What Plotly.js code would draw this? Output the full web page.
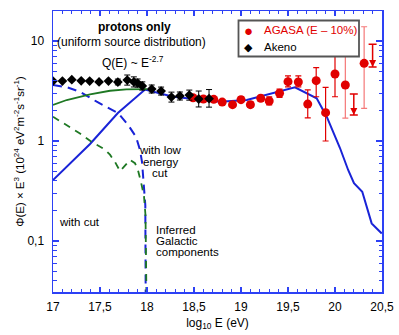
<!DOCTYPE html>
<html>
<head>
<meta charset="utf-8">
<script src="https://cdn.plot.ly/plotly-3.0.1.min.js"></script>
<style>
  html, body { margin: 0; padding: 0; background: #fff; }
  #chart { width: 399px; height: 335px; }
</style>
</head>
<body>
<div id="chart"></div>
<script>
// Akeno data (log10 E, flux x E^3 in 10^24 units)
const akenoLogE = [17.00, 17.10, 17.20, 17.30, 17.39, 17.49, 17.59, 17.69, 17.79, 17.86, 17.90, 17.95, 18.05, 18.15, 18.26, 18.35, 18.45, 18.55, 18.66];
const akenoFlux = [3.98, 3.98, 4.10, 4.00, 3.98, 3.90, 3.98, 3.89, 4.07, 3.90, 3.80, 3.55, 3.31, 3.16, 2.75, 2.82, 2.88, 2.63, 2.65];
const akenoErrUp = [0, 0, 0, 0, 0, 0, 0, 0.27, 0.50, 0.48, 0.37, 0.35, 0.32, 0.30, 0.33, 0.27, 0.35, 0.53, 0.62];
const akenoErrDn = [0, 0, 0, 0, 0, 0, 0, 0.25, 0.45, 0.43, 0.34, 0.32, 0.29, 0.28, 0.30, 0.25, 0.32, 0.44, 0.47];

// AGASA data (E - 10%)
const agasaLogE = [18.49, 18.60, 18.71, 18.80, 18.91, 19.00, 19.10, 19.21, 19.30, 19.41, 19.50, 19.61, 19.71, 19.80, 19.90, 20.00];
const agasaFlux = [2.71, 2.63, 2.61, 2.45, 2.31, 2.59, 2.31, 2.67, 2.51, 3.00, 3.92, 3.89, 2.34, 4.01, 1.92, 4.68];
const agasaErrUp = [0.12, 0.12, 0.12, 0.12, 0.11, 0.18, 0.16, 0.19, 0.25, 0.30, 0.55, 0.58, 0.90, 1.40, 1.52, 3.45];
const agasaErrDn = [0.12, 0.12, 0.12, 0.11, 0.10, 0.16, 0.14, 0.17, 0.22, 0.27, 0.45, 0.42, 0.64, 1.24, 0.92, 1.91];

// highest energy AGASA points (wide, faint error bars)
const agasaHiLogE = [20.11, 20.31];
const agasaHiFlux = [3.63, 5.98];
const agasaHiErrUp = [10.6, 7.9];
const agasaHiErrDn = [1.94, 3.86];

// AGASA upper limits
const limitLogE = [20.20, 20.40];
const limitTop = [2.95, 9.3];
const limitArrow = [1.82, 5.5];

// model: with cut (blue solid)
const cutLogE = [17.0, 17.18, 17.394, 17.69, 17.904, 17.979, 18.277, 18.564, 18.777, 19.061, 19.415, 19.574, 19.805, 19.912, 20.053, 20.141, 20.202, 20.29, 20.39, 20.497];
const cutFlux = [0.407, 0.60, 0.933, 1.905, 2.82, 3.27, 2.77, 2.57, 2.47, 2.57, 3.11, 3.44, 2.67, 1.75, 0.851, 0.51, 0.378, 0.311, 0.150, 0.119];

// inferred galactic component, with cut (blue dashed)
const galCutLogE = [17.0, 17.15, 17.287, 17.465, 17.695, 17.80, 17.883, 17.926, 17.947, 17.968, 17.982, 17.986, 17.99];
const galCutFlux = [3.63, 3.44, 3.11, 2.47, 1.89, 1.445, 1.10, 0.81, 0.617, 0.363, 0.229, 0.03, 0.01];

// model: with low energy cut (green solid)
const lowCutLogE = [17.0, 17.146, 17.394, 17.606, 17.78, 17.96, 18.0];
const lowCutFlux = [2.29, 2.57, 2.93, 3.18, 3.29, 3.33, 3.30];

// inferred galactic component, low energy cut (green dashed)
const galLowLogE = [17.0, 17.146, 17.287, 17.41, 17.5, 17.553, 17.606, 17.66, 17.713, 17.766, 17.82, 17.872, 17.904, 17.936, 17.968, 17.984, 17.99, 18.0];
const galLowFlux = [1.75, 1.445, 1.19, 0.98, 0.88, 0.82, 0.73, 0.617, 0.50, 0.562, 0.646, 0.60, 0.51, 0.389, 0.282, 0.18, 0.03, 0.01];

const xTicks = [17, 17.5, 18, 18.5, 19, 19.5, 20, 20.5];
const xTickText = ['17', '17,5', '18', '18,5', '19', '19,5', '20', '20,5'];
const yTicks = [0.1, 1, 10];
const yTickText = ['0,1', '1', '10'];
const yMinor = [0.04, 0.05, 0.06, 0.07, 0.08, 0.09, 0.2, 0.3, 0.4, 0.5, 0.6, 0.7, 0.8, 0.9, 2, 3, 4, 5, 6, 7, 8, 9, 20];

const FONT = 'Liberation Sans, Arial, Helvetica, sans-serif';
const AXIS_BLUE = 'rgb(45,65,245)';
const LINE_BLUE = 'rgb(25,35,215)';
const GREEN = 'rgb(30,120,35)';
const RED = 'rgb(225,0,0)';

const traces = [
    {
        x: cutLogE, y: cutFlux, type: 'scatter', mode: 'lines',
        line: { color: LINE_BLUE, width: 2 }
    },
    {
        x: galCutLogE, y: galCutFlux, type: 'scatter', mode: 'lines',
        line: { color: LINE_BLUE, width: 2, dash: '9px,6px' }
    },
    {
        x: lowCutLogE, y: lowCutFlux, type: 'scatter', mode: 'lines',
        line: { color: GREEN, width: 1.8 }
    },
    {
        x: galLowLogE, y: galLowFlux, type: 'scatter', mode: 'lines',
        line: { color: GREEN, width: 1.8, dash: '7px,6px' }
    },
    {
        x: agasaHiLogE, y: agasaHiFlux, type: 'scatter', mode: 'markers',
        marker: { color: RED, size: 9 },
        error_y: { type: 'data', symmetric: false, array: agasaHiErrUp, arrayminus: agasaHiErrDn,
                   color: 'rgb(245,120,120)', thickness: 1.2, width: 3 }
    },
    {
        x: limitLogE, y: limitArrow, type: 'scatter', mode: 'markers',
        marker: { color: RED, size: 7, symbol: 'arrow-down' },
        error_y: { type: 'data', symmetric: false, array: limitTop.map((t, i) => t - limitArrow[i]),
                   arrayminus: [0, 0], color: RED, thickness: 1.5, width: 4 }
    },
    {
        x: agasaLogE, y: agasaFlux, type: 'scatter', mode: 'markers', name: 'AGASA (E – 10%)',
        marker: { color: RED, size: 9 },
        error_y: { type: 'data', symmetric: false, array: agasaErrUp, arrayminus: agasaErrDn,
                   color: RED, thickness: 1.2, width: 3 }
    },
    {
        x: akenoLogE, y: akenoFlux, type: 'scatter', mode: 'markers', name: 'Akeno',
        marker: { color: 'black', size: 7.5, symbol: 'diamond' },
        error_y: { type: 'data', symmetric: false, array: akenoErrUp, arrayminus: akenoErrDn,
                   color: 'black', thickness: 1, width: 3 }
    }
];

function note(text, x, y, size, anchor, bold, color) {
    return {
        text: bold ? '<b>' + text + '</b>' : text,
        xref: 'paper', yref: 'paper', x: x, y: y,
        xanchor: anchor || 'center', yanchor: 'middle',
        showarrow: false,
        font: { family: FONT, size: size, color: color || 'black' }
    };
}

// paper coords from pixel positions in the plot area (53..382, 11..292)
const px = v => (v - 53) / 329;
const py = v => (292 - v) / 281;

// legend box drawn by hand so it keeps the compact size of the original
const legendBox = {
    type: 'rect', xref: 'paper', yref: 'paper', layer: 'above',
    x0: px(238.5), x1: px(359), y0: py(56.5), y1: py(20.5),
    line: { color: '#555', width: 1.8 }, fillcolor: 'white'
};

const layout = {
    width: 399,
    height: 335,
    margin: { l: 53, r: 17, t: 11, b: 43 },
    paper_bgcolor: 'white',
    plot_bgcolor: 'white',
    font: { family: FONT, size: 12, color: 'black' },
    showlegend: false,
    xaxis: {
        type: 'linear', range: [17, 20.5],
        tickmode: 'array', tickvals: xTicks, ticktext: xTickText,
        ticks: 'inside', ticklen: 5, tickwidth: 1.3, tickcolor: AXIS_BLUE,
        minor: { dtick: 0.1, ticks: 'inside', ticklen: 3, tickcolor: AXIS_BLUE, tickwidth: 1 },
        showline: true, linecolor: AXIS_BLUE, linewidth: 1.5, mirror: 'ticks',
        showgrid: false, zeroline: false,
        tickfont: { family: FONT, size: 12, color: 'black' },
        ticklabelstandoff: 3,
        title: { text: 'log<sub>10</sub> E (eV)', font: { family: FONT, size: 12, color: 'black' }, standoff: 5 }
    },
    yaxis: {
        type: 'log', range: [-1.51, 1.30],
        tickmode: 'array', tickvals: yTicks, ticktext: yTickText,
        ticks: 'inside', ticklen: 6, tickwidth: 1.3, tickcolor: AXIS_BLUE,
        minor: { tickmode: 'array', tickvals: yMinor, ticks: 'inside', ticklen: 3.5, tickcolor: AXIS_BLUE, tickwidth: 1 },
        showline: true, linecolor: AXIS_BLUE, linewidth: 1.5, mirror: 'ticks',
        showgrid: false, zeroline: false,
        tickfont: { family: FONT, size: 12, color: 'black' },
        ticklabelstandoff: 5,
        title: {
            text: 'Φ(E) × E<sup>3</sup> (10<sup>24</sup> eV<sup>2</sup>m<sup>-2</sup>s<sup>-1</sup>sr<sup>-1</sup>)',
            font: { family: FONT, size: 11.5, color: 'black' }, standoff: 0
        }
    },
    shapes: [legendBox],
    annotations: [
        note('protons only', px(134), py(27), 12, 'center', true),
        note('(uniform source distribution)', px(131.5), py(42), 12),
        note('Q(E) ~ E<sup>-2.7</sup>', px(133), py(62), 12),
        note('with low', px(160), py(150), 11.5),
        note('energy', px(160), py(162), 11.5),
        note('cut', px(160), py(173), 11.5),
        note('with cut', px(79.5), py(222), 11.5),
        note('Inferred', px(154), py(229.5), 11.5, 'left'),
        note('Galactic', px(154), py(240.5), 11.5, 'left'),
        note('components', px(154), py(251.5), 11.5, 'left'),
        // legend entries
        note('●', px(248), py(30), 15, 'center', false, RED),
        note('AGASA (E – 10%)', px(261.5), py(30), 11.5, 'left', false, RED),
        note('◆', px(248), py(47), 10.5, 'center', false, 'black'),
        note('Akeno', px(261.5), py(47), 11.5, 'left', false, 'black')
    ]
};

Plotly.newPlot('chart', traces, layout, { displayModeBar: false, staticPlot: true });
</script>
</body>
</html>
